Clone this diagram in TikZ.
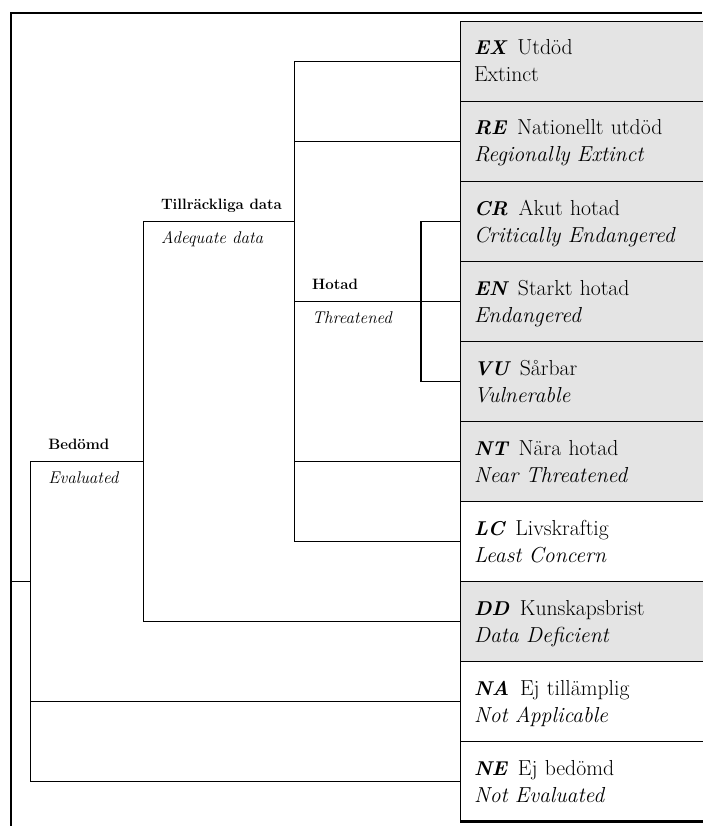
\documentclass[tikz,border=0pt]{standalone}
\usetikzlibrary{positioning}

\definecolor{grabox}{gray}{0.895}
\newcommand{\kod}[1]{{\fontsize{20}{27}\selectfont\bfseries\itshape #1}\hspace{0.5em}}

\tikzset{
    kat/.style={draw=black, line width=1pt, rectangle, anchor=north west, outer sep=0pt,
        minimum height=80pt, text width=216pt, inner xsep=14pt, inner ysep=0pt,
        text height=19pt, text depth=32pt, align=left, font=\fontsize{21.7}{27}\selectfont},
    gren/.style={line width=1.1pt},
    ram/.style={line width=2.2pt},
    rubrik/.style={anchor=base west, inner sep=0pt, xshift=17.5pt, yshift=11.7pt,
        font=\fontsize{15}{18}\selectfont\bfseries},
    engelsk/.style={anchor=base west, inner sep=0pt, xshift=17.5pt, yshift=-22.3pt,
        font=\fontsize{17}{18}\selectfont\itshape}
}

\begin{document}
\begin{tikzpicture}[x=1pt, y=-1pt]

        \useasboundingbox (0,0) rectangle (702,826);

        % Kategorier
        \node[kat, fill=grabox] (ex) at (460,21.5) {\kod{EX}Utdöd\\Extinct};
        \node[kat, fill=grabox, below=0pt of ex] (re) {\kod{RE}Nationellt utdöd\\\textit{Regionally Extinct}};
        \node[kat, fill=grabox, below=0pt of re] (cr) {\kod{CR}Akut hotad\\\textit{Critically Endangered}};
        \node[kat, fill=grabox, below=0pt of cr] (en) {\kod{EN}Starkt hotad\\\textit{Endangered}};
        \node[kat, fill=grabox, below=0pt of en] (vu) {\kod{VU}Sårbar\\\textit{Vulnerable}};
        \node[kat, fill=grabox, below=0pt of vu] (nt) {\kod{NT}Nära hotad\\\textit{Near Threatened}};
        \node[kat, below=0pt of nt] (lc) {\kod{LC}Livskraftig\\\textit{Least Concern}};
        \node[kat, fill=grabox, below=0pt of lc] (dd) {\kod{DD}Kunskapsbrist\\\textit{Data Deficient}};
        \node[kat, below=0pt of dd] (na) {\kod{NA}Ej tillämplig\\\textit{Not Applicable}};
        \node[kat, below=0pt of na] (ne) {\kod{NE}Ej bedömd\\\textit{Not Evaluated}};

        % Ram
        \draw[ram] (10.7,826) -- (10.7,13.3) -- (702,13.3);
        \draw[ram] (ne.south west) -- (ne.south east);

        % Grenpunkter
        \coordinate (rot) at (10.7,581.5);
        \coordinate (bedomd) at (30.7,461.5);
        \coordinate (tillr) at (143.3,221.5);
        \coordinate (hotad) at (294.5,301.5);
        \coordinate (akut) at (421,221.5);

        % Bedömd
        \draw[gren] (rot) -- (rot -| bedomd);
        \draw[gren] (tillr |- bedomd) -- (bedomd) |- (ne.west);
        \draw[gren] (na.west) -- (na.west -| bedomd);
        \node[rubrik] (bedomdnamn) at (bedomd) {Bedömd};
        \node[engelsk] (bedomdeng) at (bedomd) {Evaluated};

        % Tillräckliga data
        \draw[gren] (hotad |- tillr) -- (tillr) |- (dd.west);
        \node[rubrik] (tillrnamn) at (tillr) {Tillräckliga data};
        \node[engelsk] (tillreng) at (tillr) {Adequate data};

        % Hotad
        \draw[gren] (ex.west) -| (hotad) |- (lc.west);
        \draw[gren] (hotad) -- (en.west);
        \draw[gren] (re.west) -- (re.west -| hotad);
        \draw[gren] (nt.west) -- (nt.west -| hotad);
        \node[rubrik] (hotadnamn) at (hotad) {Hotad};
        \node[engelsk] (hotadeng) at (hotad) {Threatened};

        % CR, EN, VU
        \draw[gren] (cr.west) -| (akut |- vu.west) -- (vu.west);

    \end{tikzpicture}
\end{document}
